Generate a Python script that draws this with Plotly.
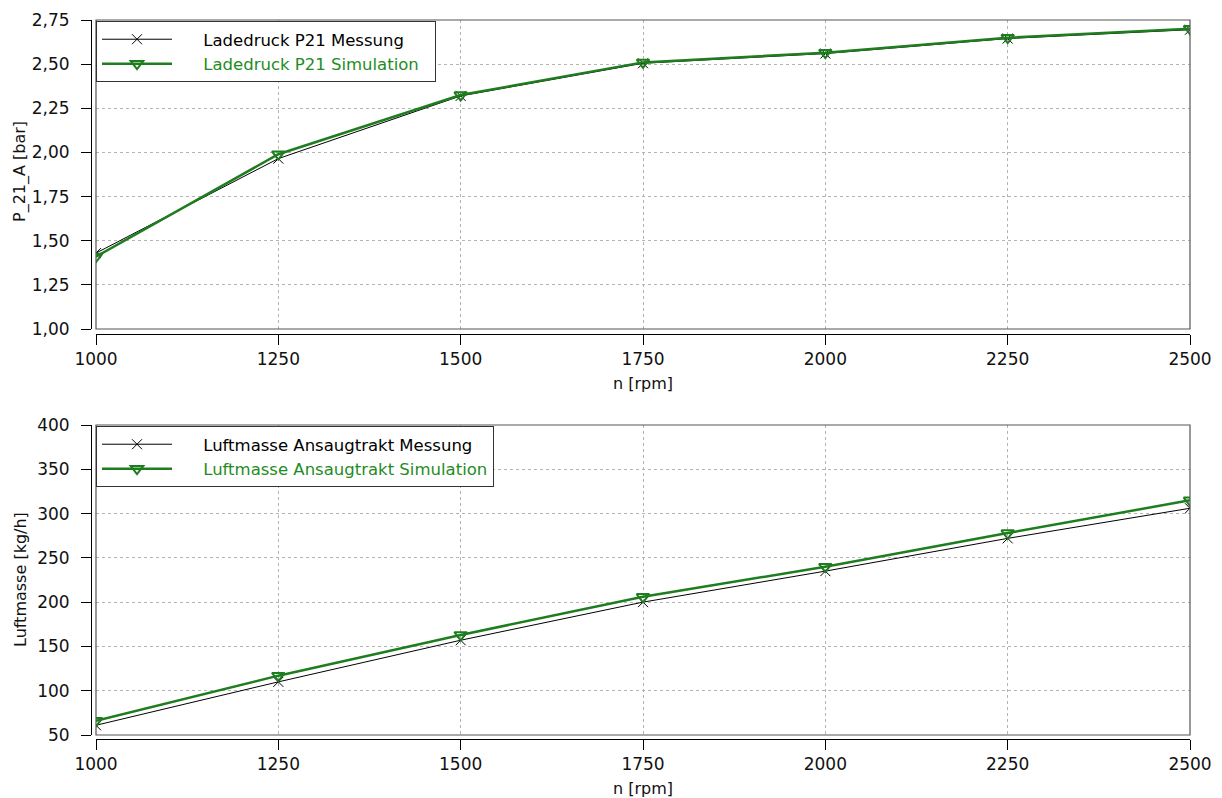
import plotly.graph_objects as go

# ---- data ----
n_rpm = [1000, 1250, 1500, 1750, 2000, 2250, 2500]
p21_mess = [1.43, 1.965, 2.32, 2.505, 2.56, 2.645, 2.695]
p21_sim = [1.41, 1.99, 2.325, 2.51, 2.565, 2.65, 2.70]
luft_mess = [61, 110, 157, 200, 235, 272, 306]
luft_sim = [66, 117, 163, 206, 240, 278, 315]

x_ticks = [1000, 1250, 1500, 1750, 2000, 2250, 2500]
y1_ticks = [1.00, 1.25, 1.50, 1.75, 2.00, 2.25, 2.50, 2.75]
y2_ticks = [50, 100, 150, 200, 250, 300, 350, 400]

W, H = 1222, 798
BLACK = "#000000"
GREEN = "#1e7d1e"
GREEN_TXT = "#1e8c1e"
FONT = "DejaVu Sans, Verdana, sans-serif"
PAD = "\u00a0" * 5
TAIL = "\u00a0" * 2

def fx(px):
    return px / W

def fy(py):
    return 1 - py / H

fig = go.Figure()

fig.add_trace(go.Scatter(
    x=n_rpm, y=p21_mess, mode="lines+markers", name=PAD + "Ladedruck P21 Messung",
    line=dict(color=BLACK, width=1),
    marker=dict(symbol="x-thin-open", size=10, line=dict(color=BLACK, width=1)),
    xaxis="x", yaxis="y", legend="legend"))
fig.add_trace(go.Scatter(
    x=n_rpm, y=p21_sim, mode="lines+markers",
    name=PAD + "<span style='color:%s'>Ladedruck P21 Simulation</span>" % GREEN_TXT + TAIL,
    line=dict(color=GREEN, width=2.5),
    marker=dict(symbol="triangle-down-open", size=11, color=GREEN,
                line=dict(color=GREEN, width=2)),
    xaxis="x", yaxis="y", legend="legend"))
fig.add_trace(go.Scatter(
    x=n_rpm, y=luft_mess, mode="lines+markers",
    name=PAD + "Luftmasse Ansaugtrakt Messung",
    line=dict(color=BLACK, width=1),
    marker=dict(symbol="x-thin-open", size=10, line=dict(color=BLACK, width=1)),
    xaxis="x2", yaxis="y2", legend="legend2"))
fig.add_trace(go.Scatter(
    x=n_rpm, y=luft_sim, mode="lines+markers",
    name=PAD + "<span style='color:%s'>Luftmasse Ansaugtrakt Simulation</span>" % GREEN_TXT,
    line=dict(color=GREEN, width=2.5),
    marker=dict(symbol="triangle-down-open", size=11, color=GREEN,
                line=dict(color=GREEN, width=2)),
    xaxis="x2", yaxis="y2", legend="legend2"))

xdom = [fx(96), fx(1190)]
top_dom = [fy(329), fy(20)]
bot_dom = [fy(735), fy(425)]

grid = dict(showgrid=True, gridcolor="#b4b4b4", gridwidth=1, griddash="3px,3px",
            zeroline=False)
tickst = dict(ticks="outside", ticklen=10, tickwidth=1, tickcolor=BLACK,
              showline=True, linecolor=BLACK, linewidth=1,
              tickfont=dict(family=FONT, size=17, color="#111"))

LEG = dict(xanchor="left", yanchor="top", bgcolor="white", bordercolor="#333",
           borderwidth=1, font=dict(family=FONT, size=16.5, color=BLACK),
           itemwidth=70, tracegroupgap=0)

fig.update_layout(
    width=W, height=H,
    margin=dict(l=0, r=0, t=0, b=0),
    paper_bgcolor="white", plot_bgcolor="white",
    separators=",.",
    showlegend=True,
    xaxis=dict(domain=xdom, range=[1000, 2500], tickvals=x_ticks, tickformat="d",
               anchor="free", position=fy(334), automargin=False, **grid, **tickst),
    yaxis=dict(domain=top_dom, range=[1.0, 2.75], tickvals=y1_ticks, tickformat=".2f",
               anchor="free", position=fx(91), automargin=False, ticklabelstandoff=8,
               **grid, **tickst),
    xaxis2=dict(domain=xdom, range=[1000, 2500], tickvals=x_ticks, tickformat="d",
                anchor="free", position=fy(739), automargin=False, **grid, **tickst),
    yaxis2=dict(domain=bot_dom, range=[50, 400], tickvals=y2_ticks, tickformat="d",
                anchor="free", position=fx(91), automargin=False, ticklabelstandoff=8,
                **grid, **tickst),
    legend=dict(x=fx(96), y=fy(21), **LEG),
    legend2=dict(x=fx(96), y=fy(426), **LEG),
)

# plot frames
for xr, yr in (("x domain", "y domain"), ("x2 domain", "y2 domain")):
    fig.add_shape(type="rect", xref=xr, yref=yr, x0=0, x1=1, y0=0, y1=1,
                  line=dict(color="#555555", width=1.2), layer="above")

# axis titles
TF = dict(family=FONT, size=16, color="#111")
ANN = dict(xref="paper", yref="paper", showarrow=False, font=TF,
           xanchor="center", yanchor="middle")
fig.add_annotation(text="n [rpm]", x=fx(643), y=fy(383), **ANN)
fig.add_annotation(text="n [rpm]", x=fx(643), y=fy(788), **ANN)
fig.add_annotation(text="P_21_A [bar]", x=fx(20), y=fy(172), textangle=-90, **ANN)
fig.add_annotation(text="Luftmasse [kg/h]", x=fx(20), y=fy(580), textangle=-90, **ANN)

fig.write_html("out.html")
